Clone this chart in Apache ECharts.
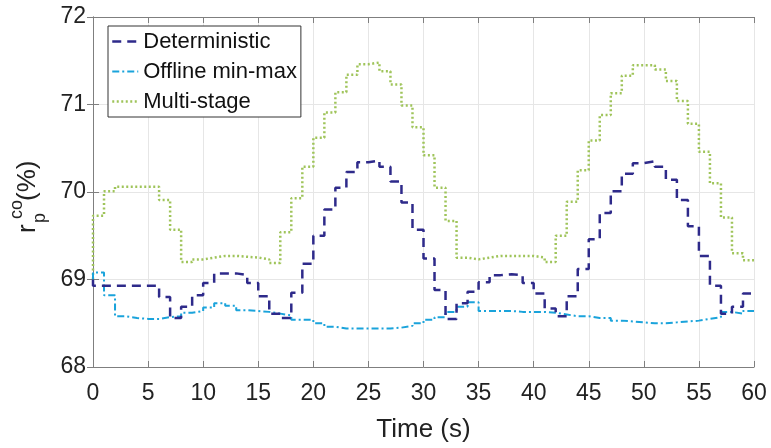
<!DOCTYPE html>
<html>
<head>
<meta charset="utf-8">
<script src="https://cdn.jsdelivr.net/npm/echarts@6/dist/echarts.min.js"></script>
<style>
html,body{margin:0;padding:0;background:#fff;}
#c{width:771px;height:448px;}
</style>
</head>
<body>
<div id="c"></div>
<script>
// time steps (s): each value holds on [t, t+1)
const times = [0,1,2,3,4,5,6,7,8,9,10,11,12,13,14,15,16,17,18,19,20,21,22,23,24,25,26,27,28,29,30,31,32,33,34,35,36,37,38,39,40,41,42,43,44,45,46,47,48,49,50,51,52,53,54,55,56,57,58,59,60];
const xTicks = [0,5,10,15,20,25,30,35,40,45,50,55,60];
const yTicks = [68,69,70,71,72];
const initialValue = 69.0;

const deterministic = [68.93,68.93,68.93,68.93,68.93,68.93,68.80,68.56,68.69,68.82,
  68.96,69.07,69.07,69.05,68.96,68.81,68.61,68.56,68.85,69.18,
  69.50,69.80,70.05,70.23,70.34,70.36,70.29,70.12,69.88,69.57,
  69.24,68.88,68.55,68.73,68.86,68.97,69.05,69.06,69.05,68.96,
  68.84,68.67,68.58,68.81,69.12,69.46,69.76,70.01,70.21,70.33,
  70.35,70.29,70.14,69.91,69.61,69.27,68.93,68.61,68.69,68.84];

const offlineMinMax = [69.08,68.82,68.58,68.56,68.55,68.55,68.57,68.58,68.62,68.64,
  68.68,68.73,68.70,68.65,68.64,68.63,68.61,68.59,68.54,68.54,
  68.50,68.46,68.44,68.44,68.44,68.44,68.44,68.45,68.47,68.50,
  68.54,68.57,68.63,68.69,68.74,68.64,68.64,68.64,68.63,68.63,
  68.63,68.62,68.60,68.58,68.58,68.56,68.56,68.53,68.52,68.51,
  68.50,68.50,68.51,68.52,68.53,68.55,68.57,68.63,68.61,68.64];

const multiStage = [69.73,70.01,70.06,70.06,70.06,70.06,69.91,69.57,69.20,69.23,
  69.25,69.27,69.27,69.26,69.25,69.23,69.19,69.54,69.93,70.29,
  70.62,70.91,71.14,71.34,71.46,71.48,71.38,71.23,70.99,70.74,
  70.42,70.05,69.67,69.25,69.23,69.25,69.27,69.27,69.27,69.27,
  69.25,69.20,69.50,69.89,70.25,70.59,70.88,71.13,71.33,71.45,
  71.45,71.40,71.27,71.04,70.78,70.46,70.10,69.71,69.30,69.22];

const seriesNames = ['Deterministic','Offline min-max','Multi-stage'];

function toSteps(vals){
  const pts = [[times[0], initialValue]];
  for (let i = 0; i < vals.length; i++) pts.push([times[i], vals[i]]);
  pts.push([times[times.length-1], vals[vals.length-1]]);
  return pts;
}

const FONT = 'Liberation Sans, Arial, Helvetica, sans-serif';
const chart = echarts.init(document.getElementById('c'));
const frame = '#7f7f7f';
const C = ['#2e2a8a','#1aa3db','#9fc45a'];
const S = [
  {color:C[0],width:2.5,type:[9,6]},
  {color:C[1],width:2,type:[7,3,2,3]},
  {color:C[2],width:2.5,type:[2,2.5]}
];

chart.setOption({
  animation:false,
  backgroundColor:'#fff',
  grid:{left:93,right:17,top:17,bottom:77,containLabel:false},
  legend:{
    orient:'vertical', left:108, top:26,
    data:seriesNames.map((n,i)=>({name:n, lineStyle:S[i]})),
    itemWidth:26, itemHeight:14, itemGap:3,
    padding:[2,4,2,3],
    itemStyle:{opacity:0},
    borderColor:'#333', borderWidth:1, backgroundColor:'#fff',
    textStyle:{fontFamily:FONT,fontSize:22,color:'#111',lineHeight:27},
    selectedMode:false
  },
  xAxis:[{
    type:'value', min:0, max:60, interval:5,
    name:'Time (s)', nameLocation:'middle', nameGap:50,
    nameTextStyle:{fontFamily:FONT,fontSize:26,color:'#222'},
    axisLine:{show:true,lineStyle:{color:frame,width:1}},
    axisTick:{show:true,inside:true,length:6,lineStyle:{color:frame}},
    axisLabel:{fontFamily:FONT,fontSize:23,color:'#222',margin:15},
    splitLine:{show:true,lineStyle:{color:'#e6e6e6',width:1}}
  },{
    type:'value', min:0, max:60, interval:5, position:'top',
    axisLine:{show:true,lineStyle:{color:frame,width:1}},
    axisTick:{show:true,inside:true,length:6,lineStyle:{color:frame}},
    axisLabel:{show:false}, splitLine:{show:false}
  }],
  yAxis:[{
    type:'value', min:68, max:72, interval:1,
    axisLine:{show:true,lineStyle:{color:frame,width:1}},
    axisTick:{show:true,inside:true,length:6,lineStyle:{color:frame}},
    axisLabel:{fontFamily:FONT,fontSize:23,color:'#222',margin:7},
    splitLine:{show:true,lineStyle:{color:'#e6e6e6',width:1}}
  },{
    type:'value', min:68, max:72, interval:1, position:'right',
    axisLine:{show:true,lineStyle:{color:frame,width:1}},
    axisTick:{show:true,inside:true,length:6,lineStyle:{color:frame}},
    axisLabel:{show:false}, splitLine:{show:false}
  }],
  series:[
    {name:seriesNames[0], type:'line', step:'end', symbol:'none', data:toSteps(deterministic),
     lineStyle:S[0], itemStyle:{color:C[0]}, z:4},
    {name:seriesNames[1], type:'line', step:'end', symbol:'none', data:toSteps(offlineMinMax),
     lineStyle:S[1], itemStyle:{color:C[1]}, z:3},
    {name:seriesNames[2], type:'line', step:'end', symbol:'none', data:toSteps(multiStage),
     lineStyle:S[2], itemStyle:{color:C[2]}, z:2}
  ],
  graphic:[
    {type:'text', x:28, y:233, rotation:Math.PI/2, style:{text:'r', font:'26px '+FONT, fill:'#222', align:'left', verticalAlign:'middle'}},
    {type:'text', x:17, y:219, rotation:Math.PI/2, style:{text:'co', font:'18px '+FONT, fill:'#222', align:'left', verticalAlign:'middle'}},
    {type:'text', x:40, y:223, rotation:Math.PI/2, style:{text:'p', font:'18px '+FONT, fill:'#222', align:'left', verticalAlign:'middle'}},
    {type:'text', x:28, y:201, rotation:Math.PI/2, style:{text:'(%)', font:'26px '+FONT, fill:'#222', align:'left', verticalAlign:'middle'}}
  ]
});
</script>
</body>
</html>
